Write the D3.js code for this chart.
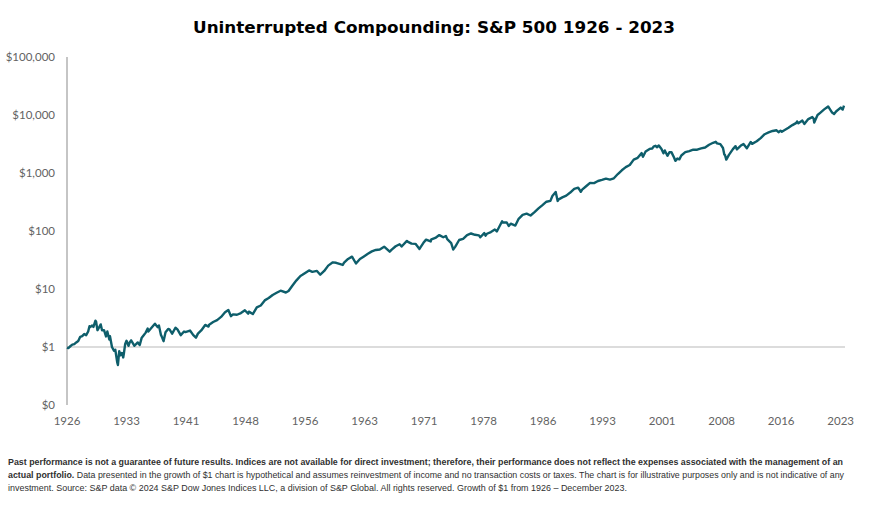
<!DOCTYPE html>
<html>
<head>
    <title>Uninterrupted Compounding</title>
    <script src="https://d3js.org/d3.v7.min.js"></script>
    <style>
        body {
            margin: 0;
            background: #fff;
        }
        .tick-label {
            font-family: Lato, "Open Sans", sans-serif;
            font-size: 11.5px;
            fill: #636363;
        }
        .foot {
            font-family: "Liberation Sans", Arial, sans-serif;
            font-size: 8.8px;
            fill: #303030;
        }
    </style>
</head>
<body>
    <div id="chart"></div>
    <script>
        // Growth of $1, S&P 500 total return (month, value)
        const months = [
            "1926-01","1926-03","1926-06","1926-09","1926-12","1927-03","1927-06","1927-09","1927-12",
            "1928-03","1928-06","1928-09","1928-11","1928-12","1929-03","1929-05","1929-08","1929-09",
            "1929-11","1929-12","1930-04","1930-06","1930-09","1930-12","1931-02","1931-05","1931-06",
            "1931-09","1931-12","1932-02","1932-05","1932-06","1932-08","1932-10","1932-12","1933-02",
            "1933-03","1933-05","1933-07","1933-10","1933-12","1934-02","1934-07","1934-12","1935-03",
            "1935-06","1935-09","1935-12","1936-03","1936-04","1936-12","1937-02","1937-06","1937-08",
            "1937-11","1937-12","1938-03","1938-06","1938-10","1938-12","1939-04","1939-09","1939-12",
            "1940-05","1940-10","1940-12","1941-07","1941-12","1942-04","1942-07","1942-12","1943-06",
            "1943-11","1943-12","1944-06","1944-12","1945-06","1945-12","1946-05","1946-09","1946-12",
            "1947-06","1947-12","1948-06","1948-11","1948-12","1949-06","1949-12","1950-06","1950-12",
            "1951-06","1951-12","1952-06","1952-12","1953-08","1953-12","1954-06","1954-12","1955-06",
            "1955-09","1955-12","1956-07","1956-12","1957-07","1957-12","1958-06","1958-12","1959-07",
            "1959-12","1960-10","1960-12","1961-06","1961-12","1962-06","1962-12","1963-06","1963-12",
            "1964-06","1964-12","1965-06","1965-12","1966-01","1966-09","1966-12","1967-06","1967-12",
            "1968-03","1968-11","1968-12","1969-06","1969-12","1970-06","1970-12","1971-04","1971-11",
            "1971-12","1972-06","1972-12","1973-06","1973-10","1973-12","1974-06","1974-09","1974-12",
            "1975-06","1975-12","1976-06","1976-12","1977-06","1977-12","1978-02","1978-08","1978-10",
            "1978-12","1979-06","1979-12","1980-03","1980-11","1980-12","1981-06","1981-09","1981-12",
            "1982-07","1982-12","1983-06","1983-12","1984-06","1984-12","1985-06","1985-12","1986-06",
            "1986-12","1987-03","1987-08","1987-11","1987-12","1988-06","1988-12","1989-06","1989-12",
            "1990-06","1990-10","1990-12","1991-06","1991-12","1992-06","1992-12","1993-06","1993-12",
            "1994-06","1994-12","1995-06","1995-12","1996-06","1996-12","1997-06","1997-12","1998-06",
            "1998-08","1998-12","1999-06","1999-10","1999-12","2000-03","2000-05","2000-08","2000-12",
            "2001-03","2001-05","2001-09","2001-12","2002-03","2002-07","2002-09","2002-12","2003-03",
            "2003-06","2003-12","2004-06","2004-12","2005-06","2005-12","2006-06","2006-12","2007-06",
            "2007-10","2007-12","2008-05","2008-09","2008-11","2008-12","2009-02","2009-06","2009-12",
            "2010-04","2010-06","2010-12","2011-04","2011-09","2011-12","2012-03","2012-05","2012-12",
            "2013-06","2013-12","2014-06","2014-12","2015-06","2015-09","2015-12","2016-02","2016-12",
            "2017-06","2017-12","2018-01","2018-03","2018-09","2018-12","2019-06","2019-12","2020-02",
            "2020-03","2020-08","2020-12","2021-06","2021-12","2022-06","2022-09","2022-12","2023-07",
            "2023-10","2023-12"
        ];
        const growth = [
            0.98, 0.96, 1.03, 1.10, 1.12, 1.20, 1.27, 1.50, 1.54,
            1.68, 1.60, 1.85, 2.28, 2.20, 2.35, 2.22, 2.85, 2.74,
            1.95, 2.02, 2.45, 1.95, 1.95, 1.52, 1.85, 1.35, 1.53,
            1.00, 0.86, 0.90, 0.54, 0.49, 0.85, 0.72, 0.79, 0.66,
            0.77, 1.13, 1.28, 1.05, 1.21, 1.30, 1.05, 1.20, 1.08,
            1.45, 1.60, 1.77, 2.08, 1.85, 2.37, 2.52, 2.20, 2.35,
            1.62, 1.54, 1.26, 1.80, 2.05, 2.02, 1.70, 2.15, 2.01,
            1.60, 1.85, 1.81, 1.92, 1.60, 1.45, 1.70, 1.93, 2.40,
            2.25, 2.43, 2.70, 2.91, 3.30, 3.97, 4.35, 3.40, 3.65,
            3.60, 3.85, 4.30, 3.75, 4.07, 3.70, 4.83, 5.20, 6.36,
            7.00, 7.89, 8.60, 9.34, 8.70, 9.24, 11.5, 14.1, 16.8,
            17.6, 18.56, 20.9, 19.78, 20.5, 17.65, 20.5, 25.3, 28.8,
            28.3, 26.0, 28.46, 33.0, 36.1, 27.5, 33.0, 36.5, 40.5,
            44.5, 47.1, 48.0, 53.0, 53.5, 44.0, 47.7, 54.5, 59.1,
            54.0, 67.5, 65.6, 60.5, 60.1, 49.0, 62.5, 71.0, 66.0,
            71.4, 76.0, 85.0, 78.0, 82.0, 72.5, 62.0, 48.0, 53.3,
            70.0, 73.1, 85.0, 90.6, 86.0, 84.1, 78.0, 92.0, 83.0,
            89.6, 96.0, 106.1, 98.0, 147.0, 140.5, 140.0, 122.0, 133.6,
            124.0, 162.2, 190.0, 198.7, 185.0, 211.2, 245.0, 279.1, 320.0,
            330.7, 400.0, 470.0, 330.0, 348.0, 380.0, 406.5, 460.0, 534.5,
            560.0, 475.0, 517.5, 590.0, 675.6, 670.0, 727.4, 760.0, 800.1,
            770.0, 810.5, 960.0, 1113.9, 1260.0, 1370.9, 1700.0, 1828.3, 2200.0,
            1900.0, 2350.9, 2600.0, 2650.0, 2845.6, 2950.0, 2780.0, 2980.0, 2586.5,
            2180.0, 2450.0, 1980.0, 2279.1, 2290.0, 1850.0, 1620.0, 1775.3, 1720.0,
            2000.0, 2283.1, 2390.0, 2529.6, 2520.0, 2653.8, 2750.0, 3073.0, 3320.0,
            3450.0, 3242.0, 3150.0, 2700.0, 2080.0, 2042.5, 1700.0, 2050.0, 2583.0,
            2900.0, 2550.0, 2972.1, 3150.0, 2670.0, 3034.9, 3430.0, 3180.0, 3520.6,
            4000.0, 4661.0, 5000.0, 5299.1, 5450.0, 5050.0, 5372.4, 5150.0, 6014.9,
            6700.0, 7327.8, 7750.0, 7200.0, 8000.0, 7006.6, 8500.0, 9212.7, 8700.0,
            7400.0, 10000.0, 10907.8, 12500.0, 14038.6, 11000.0, 10400.0, 11495.8, 13400.0,
            12400.0, 14517.4
        ];
        const yTicks = [0.1, 1, 10, 100, 1000, 10000, 100000];
        const yLabels = ["$0", "$1", "$10", "$100", "$1,000", "$10,000", "$100,000"];
        // category labels every 90 months starting Jan 1926
        const xTickMonths = [0, 90, 180, 270, 360, 450, 540, 630, 720, 810, 900, 990, 1080, 1170];
        const xLabels = ["1926","1933","1941","1948","1956","1963","1971","1978","1986","1993","2001","2008","2016","2023"];

        const title = "Uninterrupted Compounding: S&P 500 1926 - 2023";
        const footLines = [
            [{ t: "Past performance is not a guarantee of future results. Indices are not available for direct investment; therefore, their performance does not reflect the expenses associated with the management of an", b: true }],
            [{ t: "actual portfolio.", b: true }, { t: " Data presented in the growth of $1 chart is hypothetical and assumes reinvestment of income and no transaction costs or taxes. The chart is for illustrative purposes only and is not indicative of any", b: false }],
            [{ t: "investment. Source: S&P data \u00a9 2024 S&P Dow Jones Indices LLC, a division of S&P Global. All rights reserved. Growth of $1 from 1926 \u2013 December 2023.", b: false }]
        ];
        const footWidths = [835, 836, 619];

        const width = 872, height = 508;
        const margin = { left: 67, right: 28, top: 57, bottom: 103 };

        const svg = d3.select("#chart")
            .append("svg")
            .attr("width", width)
            .attr("height", height)
            .style("background-color", "#fff");

        // month index from "YYYY-MM"
        const monthIndex = s => (+s.slice(0, 4) - 1926) * 12 + (+s.slice(5, 7) - 1);
        const data = months.map((m, i) => ({ m: monthIndex(m), v: growth[i] }));

        const x = d3.scaleLinear()
            .domain([0, 1175])
            .range([margin.left, 844]);

        const y = d3.scaleLog()
            .domain([0.1, 100000])
            .range([height - margin.bottom, margin.top]);

        // title
        svg.append("text")
            .attr("x", 434)
            .attr("y", 33)
            .attr("text-anchor", "middle")
            .attr("textLength", 482)
            .attr("lengthAdjust", "spacingAndGlyphs")
            .style("font-family", "'DejaVu Sans', Verdana, sans-serif")
            .style("font-weight", "bold")
            .style("font-size", "16.5px")
            .style("fill", "#000")
            .text(title);

        // $1 baseline
        svg.append("line")
            .attr("x1", x(0))
            .attr("x2", 845)
            .attr("y1", y(1))
            .attr("y2", y(1))
            .attr("stroke", "#d0d0d0")
            .attr("stroke-width", 1.3);

        // vertical axis line
        svg.append("line")
            .attr("x1", x(0))
            .attr("x2", x(0))
            .attr("y1", y(100000))
            .attr("y2", y(0.1))
            .attr("stroke", "#a6a6a6")
            .attr("stroke-width", 1.3);

        // y labels
        svg.append("g")
            .selectAll("text")
            .data(yTicks)
            .enter()
            .append("text")
            .attr("class", "tick-label")
            .attr("x", 55)
            .attr("y", d => y(d))
            .attr("dy", "0.35em")
            .attr("text-anchor", "end")
            .text((d, i) => yLabels[i]);

        // x labels
        svg.append("g")
            .selectAll("text")
            .data(xTickMonths)
            .enter()
            .append("text")
            .attr("class", "tick-label")
            .attr("x", d => x(d))
            .attr("y", 425)
            .attr("text-anchor", "middle")
            .text((d, i) => xLabels[i]);

        // the growth line
        const line = d3.line()
            .x(d => x(d.m))
            .y(d => y(d.v));

        svg.append("path")
            .datum(data)
            .attr("fill", "none")
            .attr("stroke", "#0e5e6b")
            .attr("stroke-width", 2.4)
            .attr("stroke-linejoin", "round")
            .attr("d", line);

        // footnote
        const foot = svg.append("g");
        footLines.forEach((parts, i) => {
            const t = foot.append("text")
                .attr("class", "foot")
                .attr("x", 8)
                .attr("y", 465 + i * 13)
                .attr("textLength", footWidths[i])
                .attr("lengthAdjust", "spacingAndGlyphs");
            parts.forEach(p => {
                t.append("tspan")
                    .style("font-weight", p.b ? "bold" : "normal")
                    .text(p.t);
            });
        });
    </script>
</body>
</html>
